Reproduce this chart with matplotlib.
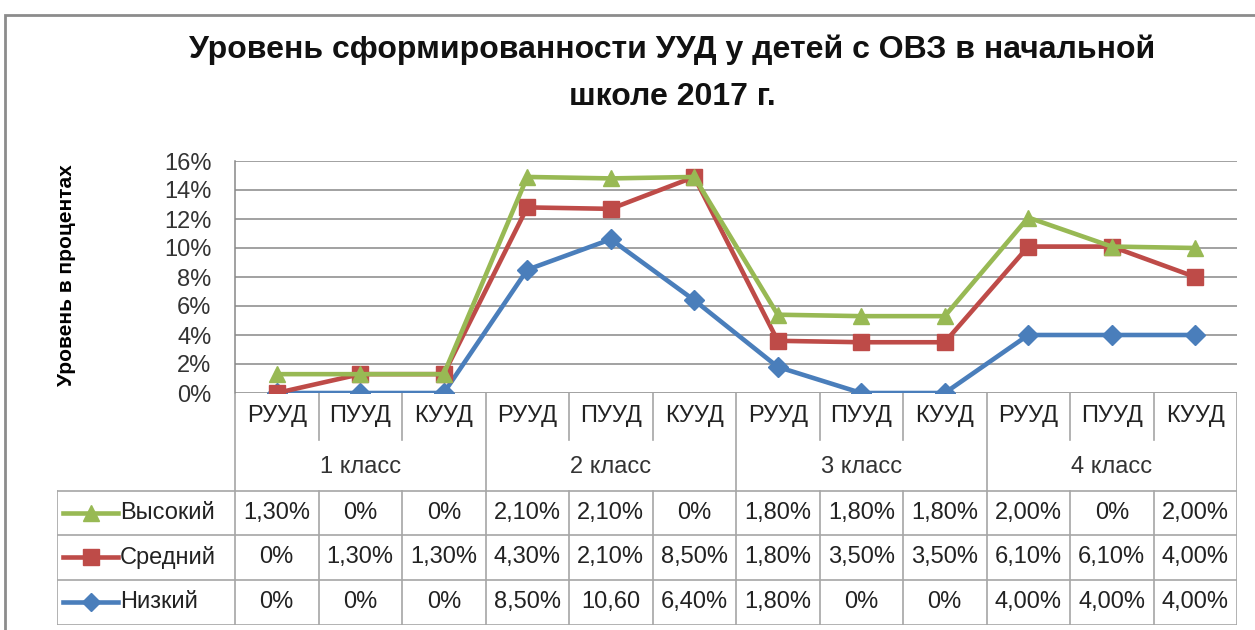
import numpy as np
import matplotlib
matplotlib.use("Agg")
import matplotlib.pyplot as plt
from matplotlib.patches import Rectangle

# ---------------- data ----------------
categories = ["РУУД", "ПУУД", "КУУД"] * 4
classes = ["1 класс", "2 класс", "3 класс", "4 класс"]
series_names = ["Низкий", "Средний", "Высокий"]
low = [0.0, 0.0, 0.0, 8.5, 10.6, 6.4, 1.8, 0.0, 0.0, 4.0, 4.0, 4.0]
mid = [0.0, 1.3, 1.3, 4.3, 2.1, 8.5, 1.8, 3.5, 3.5, 6.1, 6.1, 4.0]
high = [1.3, 0.0, 0.0, 2.1, 2.1, 0.0, 1.8, 1.8, 1.8, 2.0, 0.0, 2.0]
table_high = ["1,30%", "0%", "0%", "2,10%", "2,10%", "0%", "1,80%", "1,80%", "1,80%", "2,00%", "0%", "2,00%"]
table_mid = ["0%", "1,30%", "1,30%", "4,30%", "2,10%", "8,50%", "1,80%", "3,50%", "3,50%", "6,10%", "6,10%", "4,00%"]
table_low = ["0%", "0%", "0%", "8,50%", "10,60", "6,40%", "1,80%", "0%", "0%", "4,00%", "4,00%", "4,00%"]
yticks = [0, 2, 4, 6, 8, 10, 12, 14, 16]
title = "Уровень сформированности УУД у детей с ОВЗ в начальной\nшколе 2017 г."
ylabel = "Уровень в процентах"

plt.rcParams["font.family"] = ["Liberation Sans", "DejaVu Sans"]

W, H = 1255, 630
fig = plt.figure(figsize=(W / 100, H / 100), dpi=100)

def fx(px):
    return px / W

def fy(py):
    return 1 - py / H

# outer chart border
fig.patches.append(Rectangle((fx(5), fy(700)), fx(1300), fy(15) - fy(700),
                             transform=fig.transFigure, fill=False,
                             edgecolor="#8c8c8c", linewidth=2.0))

# plot area geometry
L, R, T, B = 235, 1237, 161, 393
ax = fig.add_axes([fx(L), fy(B), fx(R) - fx(L), fy(T) - fy(B)])
x = np.arange(len(categories))
ax.set_xlim(-0.5, len(categories) - 0.5)
ax.set_ylim(0, 16)

cum_low = np.array(low)
cum_mid = cum_low + np.array(mid)
cum_high = cum_mid + np.array(high)

blue, red, green = "#4a7ebb", "#be4b48", "#98b954"
grid_c = "#888888"

for yv in yticks:
    ax.axhline(yv, color=grid_c, lw=1.1, zorder=1)
ax.plot(x, cum_low, color=blue, lw=3.3, marker="D", ms=10, zorder=3)
ax.plot(x, cum_mid, color=red, lw=3.3, marker="s", ms=12, zorder=4)
ax.plot(x, cum_high, color=green, lw=3.3, marker="^", ms=12, zorder=5)

for s in ["top", "right", "bottom"]:
    ax.spines[s].set_visible(False)
ax.spines["left"].set_color(grid_c)
ax.spines["left"].set_linewidth(1.1)
ax.set_xticks([])
ax.set_yticks(yticks)
ax.set_yticklabels([f"{v}%" for v in yticks], fontsize=17, color="#333333")
ax.tick_params(axis="y", length=0, pad=17)

# y label
fig.text(fx(66), fy(275), ylabel, rotation=90, ha="center", va="center",
         fontsize=15, fontweight="bold")

# title
fig.text(fx(672), fy(73), title, ha="center", va="center", fontsize=23,
         fontweight="bold", linespacing=1.75, color="#111111")

# ---------------- category / data table ----------------
unit = (R - L) / len(categories)
TL = 57
tb = 625
ax_t = fig.add_axes([fx(TL), fy(tb), fx(R) - fx(TL), fy(B) - fy(tb)])
ax_t.set_xlim(-0.5 - (L - TL) / unit, len(categories) - 0.5)
ax_t.set_ylim(tb, B)
ax_t.axis("off")
ax_t.patch.set_alpha(0)

n = len(categories)
y_cat, y_cls = 416, 467
row_tops = [491, 535, 580, 625]
edges = np.arange(n + 1) - 0.5
xl = ax_t.get_xlim()[0]
lc = "#a6a6a6"
lw = 1.2
fs = 17

# category row
for i, c in enumerate(categories):
    ax_t.text(x[i], y_cat, c, ha="center", va="center", fontsize=fs, color="#222222")
for e_i, e in enumerate(edges):
    if e_i % 3 == 0:
        ax_t.plot([e, e], [B, tb], color=lc, lw=lw)
    else:
        ax_t.plot([e, e], [B, 440], color=lc, lw=lw)
        ax_t.plot([e, e], [row_tops[0], tb], color=lc, lw=lw)
for k, cl in enumerate(classes):
    ax_t.text(3 * k + 1, y_cls, cl, ha="center", va="center", fontsize=fs, color="#333333")

# table rows
for yy in row_tops:
    ax_t.plot([xl, edges[-1]], [yy, yy], color=lc, lw=lw)
ax_t.plot([xl, xl], [row_tops[0], tb], color=lc, lw=lw)

rows = [(table_high, "Высокий", green, "^", 11),
        (table_mid, "Средний", red, "s", 11),
        (table_low, "Низкий", blue, "D", 9)]
for r, (vals, name, col, mk, ms) in enumerate(rows):
    yc = (row_tops[r] + row_tops[r + 1]) / 2
    for i, v in enumerate(vals):
        ax_t.text(x[i], yc, v, ha="center", va="center", fontsize=fs, color="#222222")
    x0 = xl + 6 / unit
    x1 = xl + 61 / unit
    ax_t.plot([x0, x1], [yc, yc], color=col, lw=3.3)
    ax_t.plot([(x0 + x1) / 2], [yc], color=col, marker=mk, ms=ms)
    ax_t.text(x1 + 2 / unit, yc, name, ha="left", va="center", fontsize=fs, color="#222222")

fig.savefig("out.png", dpi=100)
